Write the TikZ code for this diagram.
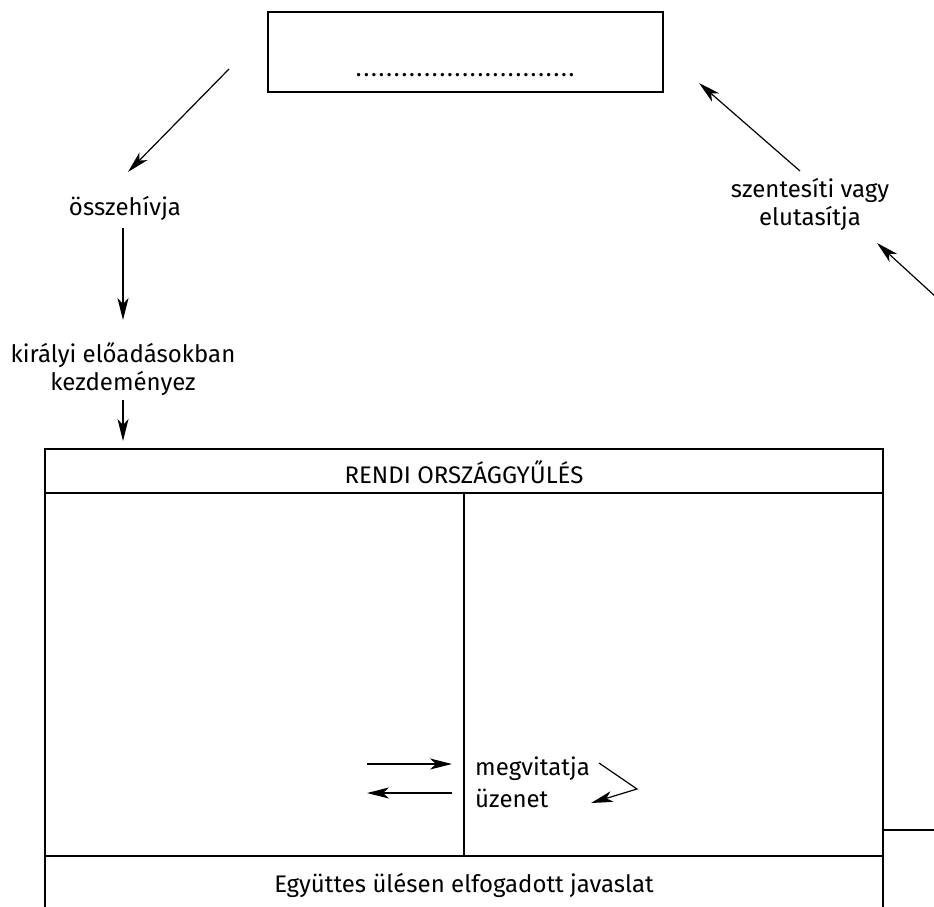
\documentclass[tikz,border=0pt]{standalone}
\usepackage{fontspec}
\setmainfont{Fira Sans}
\usetikzlibrary{arrows.meta,calc}
\tikzset{
  lbl/.style={font=\fontsize{24}{28}\selectfont, inner sep=0pt, align=center},
  arrowline/.style={line width=1.2pt, arrows={-Stealth[length=22pt,width=11pt,inset=6pt]}},
  frame/.style={line width=1.2pt},
}
\begin{document}
\begin{tikzpicture}[x=1pt,y=-1pt]
\useasboundingbox (0,0) rectangle (934,907);
% top box
\node[draw, frame, minimum width=395pt, minimum height=80pt, inner sep=0pt] (top) at (465.5,52) {};
\node[lbl, anchor=base] (dots) at (466,77) {\makebox[222pt]{\leaders\hbox to 7.6pt{\hss.\hss}\hfill}};
% left chain
\coordinate (s1) at (229,69);
\node[lbl] (ossz) at (125,208) {összehívja};
\node[lbl] (kir) at (123,369) {királyi előadásokban\\kezdeményez};
\coordinate (boxtop) at (123,441);
\draw[arrowline] (s1) -- (128,172);
\draw[arrowline] (123,228) -- (123,320);
\draw[arrowline] (123,400) -- (boxtop);
% right
\node[lbl] (szent) at (810,204) {szentesíti vagy\\elutasítja};
\coordinate (rin) at (948,308);
\coordinate (rout) at (877,243);
\draw[arrowline] (rin) -- (rout);
\draw[arrowline] (800,171) -- (699,83);
% big box
\draw[frame] (45,935) -- (45,449) -- (883,449) -- (883,935);
\draw[frame] (45,493) -- (883,493);
\draw[frame] (464,493) -- (464,856);
\draw[frame] (45,856) -- (883,856);
\draw[frame] (883,830) -- (950,830);
\node[lbl] (rendi) at (464,472) {RENDI ORSZÁGGYŰLÉS};
\node[lbl] (egy) at (464,885) {Együttes ülésen elfogadott javaslat};
% discussion
\node[lbl, anchor=west] (meg) at (475,769) {megvitatja};
\node[lbl, anchor=west] (uz) at (475,798) {üzenet};
\draw[arrowline] (367,764) -- (452,764);
\draw[arrowline] (452,793) -- (367,793);
\draw[arrowline] (599,763) -- (637,789) -- (591,803);
\end{tikzpicture}
\end{document}
